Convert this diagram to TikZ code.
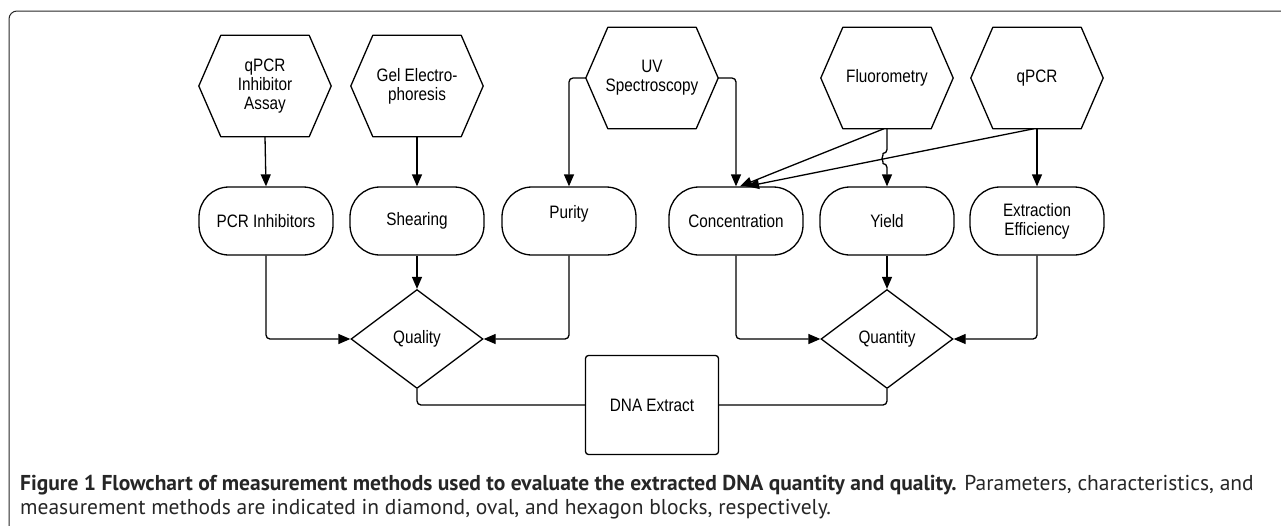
\documentclass[tikz,border=0pt]{standalone}
\usepackage{fontspec}
\setmainfont[FakeStretch=0.85]{Liberation Sans}
\newfontfamily\capfont{PT Sans}
\usetikzlibrary{arrows.meta,shapes.geometric}

\begin{document}
\begin{tikzpicture}[
  x = 1pt, y = -1pt,
  every node/.style = {font=\fontsize{18}{19}\selectfont, align=center, inner sep=0pt},
  hexa/.style = {minimum width=132pt, minimum height=101pt},
  hexline/.style = {line width=1.3pt, line join=round},
  oval/.style = {draw, line width=1.3pt, rounded corners=30pt, minimum width=134pt, minimum height=68pt},
  param/.style = {draw, diamond, line width=1.3pt, minimum width=132pt, minimum height=99pt},
  extract/.style = {draw, line width=1.3pt, rounded corners=3pt, minimum width=133pt, minimum height=99pt},
  link/.style = {line width=1.3pt, rounded corners=4pt},
  arrow/.style = {link, -{Triangle[length=12pt, width=10pt]}},
  caption/.style = {font=\capfont\fontsize{21.5}{24}\selectfont, text=black!85, anchor=base west, align=left}]
\useasboundingbox (0,0) rectangle (1281,525);
\clip (0,0) rectangle (1281,525);
\draw[line width=1pt, black!85, rounded corners=8pt] (9,11) rectangle (1300,545);

\node[hexa] (qpcrInhib) at (265,86) {qPCR\\Inhibitor\\Assay};
\node[hexa] (gelElec) at (417,86) {Gel Electro-\\phoresis};
\node[hexa] (uvSpec) at (652,78) {UV\\Spectroscopy};
\node[hexa] (fluoro) at (887,78) {Fluorometry};
\node[hexa] (qpcr) at (1037,78) {qPCR};
\foreach \h in {qpcrInhib, gelElec, uvSpec, fluoro, qpcr}
  \draw[hexline] (\h.west) -- ([xshift=22pt]\h.north west) -- ([xshift=-22pt]\h.north east)
    -- (\h.east) -- ([xshift=-22pt]\h.south east) -- ([xshift=22pt]\h.south west) -- cycle;

\node[oval] (pcrInhib) at (266,221) {PCR Inhibitors};
\node[oval] (shearing) at (417,221) {Shearing};
\node[oval] (purity) at (569,221) {Purity\\\mbox{}};
\node[oval] (conc) at (736,221) {Concentration};
\node[oval] (yield) at (887,221) {Yield};
\node[oval] (extrEff) at (1037,221) {Extraction\\Efficiency};

\node[param] (quality) at (417,339) {Quality};
\node[param] (quantity) at (887,339) {Quantity};
\node[extract] (dnaExtract) at (652,405) {DNA Extract};

\coordinate (hop) at (887,153.5);

\draw[arrow] (qpcrInhib.south) -- (pcrInhib.north);
\draw[arrow] (gelElec.south) -- (shearing.north);
\draw[arrow] (uvSpec.west) -| (purity.north);
\draw[arrow] (uvSpec.east) -| (conc.north);
\draw[arrow] ([xshift=-3pt]fluoro.south) -- ([xshift=4pt]conc.north);
\draw[arrow] ([xshift=-3pt]qpcr.south) -- ([xshift=11pt]conc.north);
\draw[arrow] (fluoro.south) -- (hop) arc[start angle=90, end angle=270, radius=5pt] -- (yield.north);
\draw[arrow] (qpcr.south) -- (extrEff.north);

\draw[arrow] (pcrInhib.south) |- (quality.west);
\draw[arrow] (shearing.south) -- (quality.north);
\draw[arrow] (purity.south) |- (quality.east);
\draw[arrow] (conc.south) |- (quantity.west);
\draw[arrow] (yield.south) -- (quantity.north);
\draw[arrow] (extrEff.south) |- (quantity.east);

\draw[link] (quality.south) |- (dnaExtract.west);
\draw[link] (quantity.south) |- (dnaExtract.east);

\node[caption] (capLine1) at (20,490) {\textbf{Figure 1 Flowchart of measurement methods used to evaluate the extracted DNA quantity and quality.} Parameters, characteristics, and};
\node[caption] (capLine2) at (20,514) {measurement methods are indicated in diamond, oval, and hexagon blocks, respectively.};
\end{tikzpicture}
\end{document}
